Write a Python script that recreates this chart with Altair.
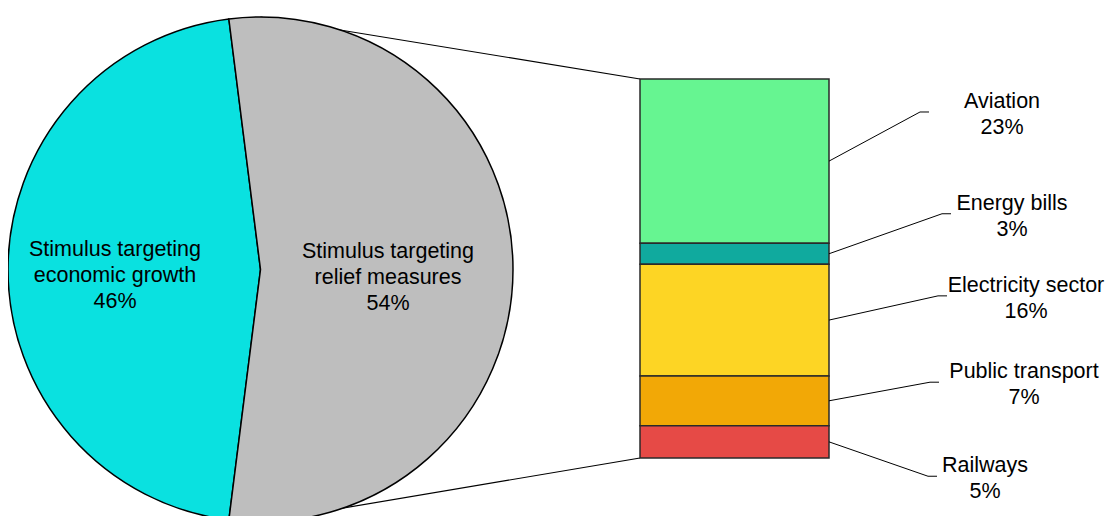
import math
import altair as alt
import pandas as pd

# ---------------- data ----------------
pie_names = ["economic growth", "relief measures"]
pie_lines = [["Stimulus targeting", "economic growth"], ["Stimulus targeting", "relief measures"]]
pie_shares = [46, 54]
pie_colors = ["#0AE1E0", "#BEBEBE"]

bar_names = ["Aviation", "Energy bills", "Electricity sector", "Public transport", "Railways"]
bar_values = [23.4, 3.0, 15.9, 7.1, 4.6]
bar_colors = ["#66F591", "#10AA9E", "#FDD524", "#F2A806", "#E64A46"]

# ---------------- layout (chart pixels) ----------------
W, H = 1097, 508
CX, CY, R = 252.5, 261.5, 252.5
BAR_X0, BAR_X1 = 632, 821
BAR_Y_BOTTOM, BAR_Y_TOP = 450, 71
pie_label_x = [107, 380]
pie_label_y = [241.5, 244.3]
label_x = [994, 1004, 1018, 1016, 977]
label_level = [49.3, 34.8, 23.1, 10.8, -2.6]   # in bar units
elbow_x = [912, 934, 930, 922, 920]
ELBOW_LEN = 9
FONT = "Liberation Sans"
FS = 21.5
LH = 26

# ---------------- tables ----------------
total = sum(bar_values)
pie_df = pd.DataFrame({
    "name": pie_names,
    "share": pie_shares,
    "ord": list(range(len(pie_names))),
    "label": ["\n".join(l + [f"{s}%"]) for l, s in zip(pie_lines, pie_shares)],
})

bar_df = pd.DataFrame({"name": bar_names, "value": bar_values})
cum = bar_df["value"].cumsum()
bar_df["y1"] = total - cum + bar_df["value"]
bar_df["y0"] = total - cum
bar_df["mid"] = (bar_df["y0"] + bar_df["y1"]) / 2
bar_df["lx"] = label_x
bar_df["lvl"] = label_level
bar_df["label"] = [f"{n}\n{round(v)}%" for n, v in zip(bar_names, bar_values)]

rows = []
for i, r in bar_df.iterrows():
    rows.append({"name": r["name"], "pt": 0, "px": BAR_X1, "lvl": r["mid"]})
    rows.append({"name": r["name"], "pt": 1, "px": elbow_x[i], "lvl": r["lvl"]})
    rows.append({"name": r["name"], "pt": 2, "px": elbow_x[i] + ELBOW_LEN, "lvl": r["lvl"]})
lead_df = pd.DataFrame(rows)

# ---------------- scales ----------------
grey_frac = pie_shares[1] / sum(pie_shares)
start = math.pi + (grey_frac - 0.5) * math.pi
theta_scale = alt.Scale(range=[start, start + 2 * math.pi])
yscale = alt.Scale(domain=[0, total], range=[BAR_Y_BOTTOM, BAR_Y_TOP])

# ---------------- layers ----------------
conn_top = alt.Chart(pd.DataFrame({"v": [total]})).mark_rule(color="black", strokeWidth=1.2).encode(
    x=alt.value(BAR_X0), x2=alt.value(CX),
    y=alt.Y("v:Q", scale=yscale, axis=None), y2=alt.value(CY - R),
)
conn_bot = alt.Chart(pd.DataFrame({"v": [0.0]})).mark_rule(color="black", strokeWidth=1.2).encode(
    x=alt.value(BAR_X0), x2=alt.value(CX),
    y=alt.Y("v:Q", scale=yscale, axis=None), y2=alt.value(CY + R),
)

pie = alt.Chart(pie_df).mark_arc(radius=R, stroke="black", strokeWidth=1.5).encode(
    theta=alt.Theta("share:Q", stack=True, scale=theta_scale),
    order=alt.Order("ord:Q"),
    x=alt.value(CX), y=alt.value(CY),
    color=alt.Color("name:N", scale=alt.Scale(domain=pie_names, range=pie_colors), legend=None),
)

pie_texts = []
for i, nm in enumerate(pie_names):
    pie_texts.append(
        alt.Chart(pie_df).transform_filter(alt.datum.name == nm).mark_text(
            font=FONT, fontSize=FS, lineBreak="\n", lineHeight=LH, align="center",
            baseline="middle", color="black",
        ).encode(x=alt.value(pie_label_x[i]), y=alt.value(pie_label_y[i]), text="label:N")
    )

bars = alt.Chart(bar_df).mark_rect(stroke="#2a2a2a", strokeWidth=1.5).encode(
    x=alt.value(BAR_X0), x2=alt.value(BAR_X1),
    y=alt.Y("y0:Q", scale=yscale, axis=None), y2="y1:Q",
    color=alt.Color("name:N", scale=alt.Scale(domain=bar_names, range=bar_colors), legend=None),
)

leaders = alt.Chart(lead_df).mark_line(color="black", strokeWidth=1).encode(
    x=alt.X("px:Q", scale=None, axis=None),
    y=alt.Y("lvl:Q", scale=yscale, axis=None),
    detail="name:N",
    order="pt:Q",
)

labels = alt.Chart(bar_df).mark_text(
    font=FONT, fontSize=FS, lineBreak="\n", lineHeight=LH, align="center",
    baseline="middle", color="black", dy=-10,
).encode(
    x=alt.X("lx:Q", scale=None, axis=None),
    y=alt.Y("lvl:Q", scale=yscale, axis=None),
    text="label:N",
)

chart = alt.layer(conn_top, conn_bot, pie, *pie_texts, bars, leaders, labels).resolve_scale(
    color="independent"
).properties(
    width=W, height=H, padding=0, autosize=alt.AutoSizeParams(type="none"),
).configure_view(stroke="transparent")

chart.save("out.html", embed_options={"renderer": "svg", "actions": False})
